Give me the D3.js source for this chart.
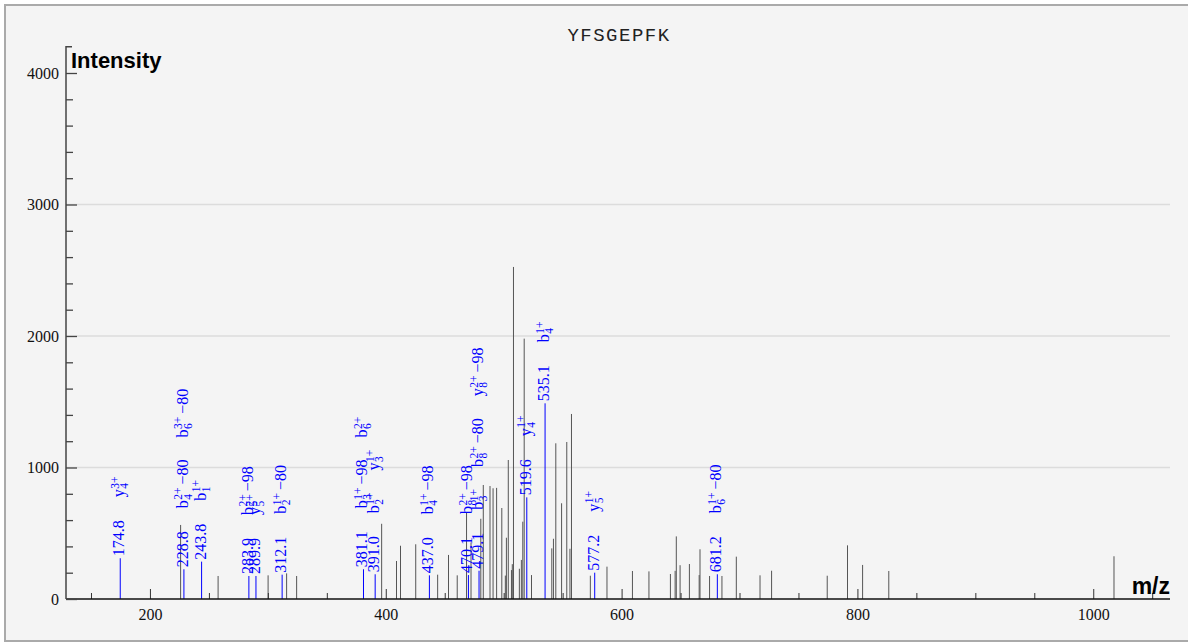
<!DOCTYPE html>
<html><head><meta charset="utf-8">
<script src="https://cdn.jsdelivr.net/npm/d3@7/dist/d3.min.js"></script>
<style>body{margin:0;background:#fff;} svg{display:block}</style>
</head><body>
<svg id="chart" width="1188" height="643"></svg>
<script>
const title = "YFSGEPFK";
const xLabel = "m/z";
const yLabel = "Intensity";
const xTicksMajor = [200, 400, 600, 800, 1000];
const yTicksMajor = [0, 1000, 2000, 3000, 4000];
const yGrid = [1000, 2000, 3000];

// unannotated peaks
const peakMz  = [226.0, 257.8, 300.2, 315.9, 324.4, 396.5, 409.1, 412.5, 425.4, 444.0,
                 453.2, 460.6, 468.5, 472.3, 480.6, 482.7, 488.4, 491.0, 494.0, 498.4,
                 501.4, 502.3, 503.9, 506.6, 507.3, 508.3, 513.3, 515.0, 516.2, 517.4,
                 523.6, 540.8, 542.2, 544.2, 549.1, 553.5, 556.2, 557.5, 573.5, 587.6,
                 609.2, 623.2, 641.4, 645.4, 646.4, 649.6, 657.5, 665.8, 666.5, 674.6,
                 685.1, 697.3, 717.4, 727.2, 774.4, 791.6, 804.4, 826.6, 1017.6];
const peakInt = [563, 175, 180, 195, 175, 572, 289, 405, 416, 185,
                 335, 180, 656, 430, 610, 867, 859, 842, 845, 692,
                 178, 466, 1057, 220, 265, 2525, 230, 297, 588, 1980,
                 182, 385, 458, 1184, 728, 1194, 382, 1407, 177, 246,
                 213, 210, 190, 214, 476, 257, 266, 182, 378, 175,
                 175, 322, 180, 215, 177, 408, 259, 213, 325];

// annotated peaks: [ion, subscript, charge, loss]
const annMz  = [174.8, 228.8, 243.8, 283.9, 289.9, 312.1, 381.1, 391.0, 437.0, 470.1, 479.1, 519.6, 535.1, 577.2, 681.2];
const annInt = [310, 226, 284, 175, 175, 185, 226, 188, 180, 182, 215, 773, 1488, 200, 188];
const annIons = [
  [["y","4","3+",""]],
  [["b","4","2+","\u221280"], ["b","6","3+","\u221280"]],
  [["b","1","1+",""]],
  [["b","5","2+","\u221298"]],
  [["y","5","2+",""]],
  [["b","2","1+","\u221280"]],
  [["b","3","1+","\u221298"], ["b","6","2+",""]],
  [["b","2","1+",""], ["y","3","1+",""]],
  [["b","4","1+","\u221298"]],
  [["b","8","2+","\u221298"]],
  [["b","3","1+",""], ["b","8","2+","\u221280"], ["y","8","2+","\u221298"]],
  [["y","4","1+",""]],
  [["b","4","1+",""]],
  [["y","5","1+",""]],
  [["b","6","1+","\u221280"]]
];

const svg = d3.select("#chart");
const serif = "'Liberation Serif', 'Times New Roman', serif";
const sans = "'Liberation Sans', Arial, sans-serif";

svg.append("rect").attr("x", 5).attr("y", 5).attr("width", 1192).attr("height", 636)
  .attr("fill", "#f4f4f4").attr("stroke", "#aaa").attr("stroke-width", 2);

const x = d3.scaleLinear().domain([128.8, 1065.1]).range([66, 1170]);
const y = d3.scaleLinear().domain([0, 4200]).range([599, 46.7]);

// grid
svg.append("g").selectAll("line").data(yGrid).join("line")
  .attr("x1", 66).attr("x2", 1170).attr("y1", d => y(d)).attr("y2", d => y(d))
  .attr("stroke", "#dcdcdc").attr("stroke-width", 1.5);

// peaks
svg.append("g").selectAll("line").data(peakMz).join("line")
  .attr("x1", d => x(d)).attr("x2", d => x(d))
  .attr("y1", y(0)).attr("y2", (d, i) => y(peakInt[i]))
  .attr("stroke", "#555").attr("stroke-width", 1);

svg.append("g").selectAll("line").data(annMz).join("line")
  .attr("x1", d => x(d)).attr("x2", d => x(d))
  .attr("y1", y(0)).attr("y2", (d, i) => y(annInt[i]))
  .attr("stroke", "#0000ff").attr("stroke-width", 1);

// x axis
const xMinor = d3.range(150, 1051, 50).filter(v => !xTicksMajor.includes(v));
const gxm = svg.append("g").attr("transform", `translate(0,${y(0)})`)
  .call(d3.axisBottom(x).tickValues(xMinor).tickSize(-6).tickSizeOuter(0).tickFormat(""));
gxm.select(".domain").remove();
const gx = svg.append("g").attr("transform", `translate(0,${y(0)})`)
  .call(d3.axisBottom(x).tickValues(xTicksMajor).tickSize(-10).tickSizeOuter(0).tickPadding(10).tickFormat(d3.format("d")));
gx.select(".domain").remove();
[gx, gxm].forEach(g => g.selectAll(".tick line").attr("stroke", "#333"));
gx.selectAll("text").attr("font-family", serif).attr("font-size", 16).attr("fill", "#111");
svg.append("line").attr("x1", 66).attr("x2", 1170).attr("y1", y(0)).attr("y2", y(0))
  .attr("stroke", "#111").attr("stroke-width", 1.5);

// y axis
const yMinor = d3.range(200, 4200, 200).filter(v => !yTicksMajor.includes(v));
const gym = svg.append("g").attr("transform", "translate(66,0)")
  .call(d3.axisLeft(y).tickValues(yMinor).tickSize(-7).tickSizeOuter(0).tickFormat(""));
gym.select(".domain").remove();
const gy = svg.append("g").attr("transform", "translate(66,0)")
  .call(d3.axisLeft(y).tickValues(yTicksMajor).tickSize(-11).tickSizeOuter(0).tickPadding(7).tickFormat(d3.format("d")));
gy.select(".domain").remove();
[gy, gym].forEach(g => g.selectAll(".tick line").attr("stroke", "#444").attr("stroke-width", 1.3));
gy.selectAll("text").attr("font-family", serif).attr("font-size", 16).attr("fill", "#111");
svg.append("path").attr("d", `M72,${y(4200)}H66V${y(0)}`).attr("fill", "none")
  .attr("stroke", "#444").attr("stroke-width", 1.5);

// axis titles
svg.append("text").attr("x", 71).attr("y", 68).attr("font-family", sans).attr("font-weight", "bold")
  .attr("font-size", 22).attr("fill", "#000").text(yLabel);
svg.append("text").attr("x", 1170).attr("y", 594).attr("text-anchor", "end").attr("font-family", sans)
  .attr("font-weight", "bold").attr("font-size", 23).attr("fill", "#000").text(xLabel);
svg.append("text").attr("x", 619).attr("y", 41).attr("text-anchor", "middle")
  .attr("font-family", "'Liberation Mono', 'Courier New', monospace").attr("font-size", 19)
  .attr("letter-spacing", 1.5).attr("fill", "#222").text(title);

// annotation labels
const lg = svg.append("g").attr("fill", "#0000ff");
annMz.forEach((mz, i) => {
  const px = x(mz) + 4, top = y(annInt[i]);
  lg.append("text").attr("transform", `translate(${px},${top - 2}) rotate(-90)`)
    .attr("font-family", serif).attr("font-size", 16).text(mz.toFixed(1));
  let base = top - 61;
  annIons[i].forEach(ion => {
    const g = lg.append("g").attr("transform", `translate(${px},${base}) rotate(-90)`)
      .attr("font-family", serif);
    const m = g.append("text").attr("font-size", 16).text(ion[0]);
    const w0 = m.node().getComputedTextLength();
    const sup = g.append("text").attr("x", w0 + 0.5).attr("y", -5.5).attr("font-size", 11.5).text(ion[2]);
    const sub = g.append("text").attr("x", w0 + 0.5).attr("y", 4).attr("font-size", 11.5).text(ion[1]);
    let end = w0 + 0.5 + Math.max(sup.node().getComputedTextLength(), sub.node().getComputedTextLength());
    if (ion[3]) {
      const l = g.append("text").attr("x", end + 3).attr("font-size", 16).text(ion[3]);
      end += 3 + l.node().getComputedTextLength();
    }
    base -= end + 22;
  });
});
</script>
</body></html>
